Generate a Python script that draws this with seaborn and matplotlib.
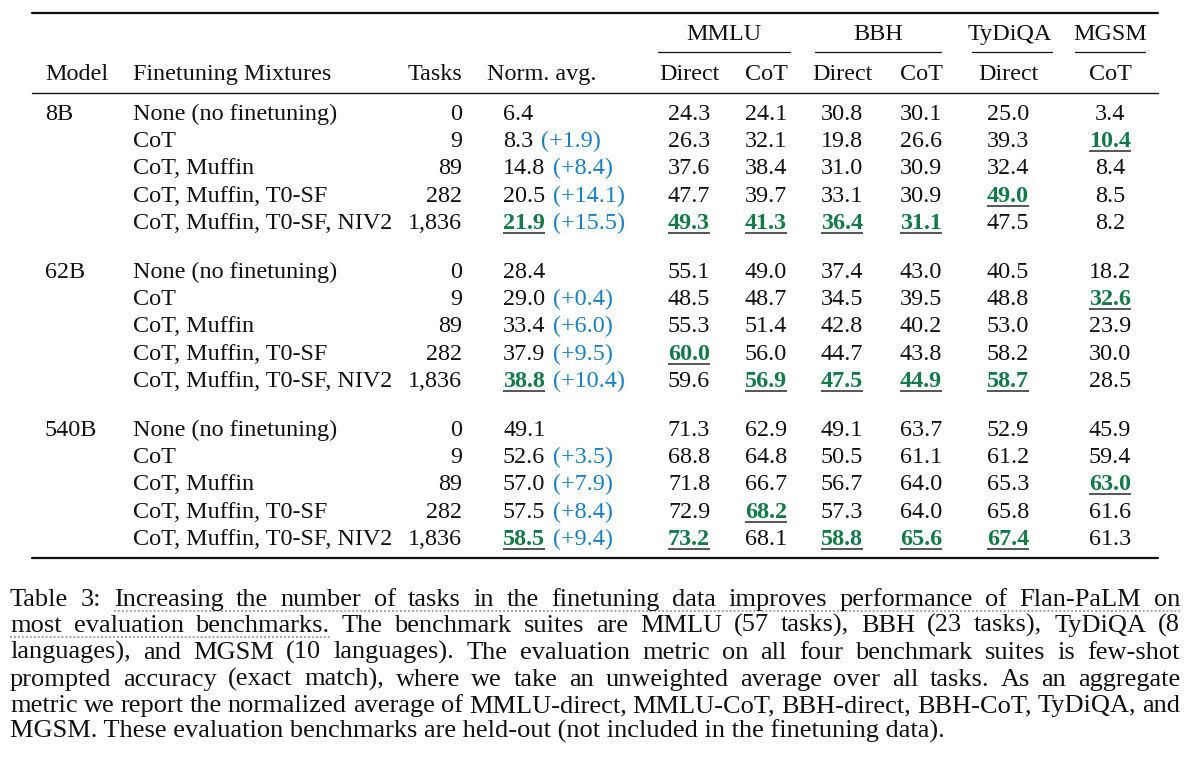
import numpy as np
import pandas as pd
import seaborn as sns
import matplotlib.pyplot as plt

# table data (Table 3, Flan-PaLM)
models = ['8B', '62B', '540B']
mixtures = ['None (no finetuning)', 'CoT', 'CoT, Muffin', 'CoT, Muffin, T0-SF', 'CoT, Muffin, T0-SF, NIV2']
tasks = ['0', '9', '89', '282', '1,836']
norm_avg = [[6.4, 8.3, 14.8, 20.5, 21.9], [28.4, 29.0, 33.4, 37.9, 38.8], [49.1, 52.6, 57.0, 57.5, 58.5]]
norm_gain = [[None, 1.9, 8.4, 14.1, 15.5], [None, 0.4, 6.0, 9.5, 10.4], [None, 3.5, 7.9, 8.4, 9.4]]
mmlu_direct = [[24.3, 26.3, 37.6, 47.7, 49.3], [55.1, 48.5, 55.3, 60.0, 59.6], [71.3, 68.8, 71.8, 72.9, 73.2]]
mmlu_cot = [[24.1, 32.1, 38.4, 39.7, 41.3], [49.0, 48.7, 51.4, 56.0, 56.9], [62.9, 64.8, 66.7, 68.2, 68.1]]
bbh_direct = [[30.8, 19.8, 31.0, 33.1, 36.4], [37.4, 34.5, 42.8, 44.7, 47.5], [49.1, 50.5, 56.7, 57.3, 58.8]]
bbh_cot = [[30.1, 26.6, 30.9, 30.9, 31.1], [43.0, 39.5, 40.2, 43.8, 44.9], [63.7, 61.1, 64.0, 64.0, 65.6]]
tydiqa = [[25.0, 39.3, 32.4, 49.0, 47.5], [40.5, 48.8, 53.0, 58.2, 58.7], [52.9, 61.2, 65.3, 65.8, 67.4]]
mgsm = [[3.4, 10.4, 8.4, 8.5, 8.2], [18.2, 32.6, 23.9, 30.0, 28.5], [45.9, 59.4, 63.0, 61.6, 61.3]]

groups = ['MMLU', 'BBH', 'TyDiQA', 'MGSM']
sub_headers = ['Direct', 'CoT', 'Direct', 'CoT', 'Direct', 'CoT']
caption_lines = [
    "Table 3: Increasing the number of tasks in the finetuning data improves performance of Flan-PaLM on",
    "most evaluation benchmarks. The benchmark suites are MMLU (57 tasks), BBH (23 tasks), TyDiQA (8",
    "languages), and MGSM (10 languages). The evaluation metric on all four benchmark suites is few-shot",
    "prompted accuracy (exact match), where we take an unweighted average over all tasks. As an aggregate",
    "metric we report the normalized average of MMLU-direct, MMLU-CoT, BBH-direct, BBH-CoT, TyDiQA, and",
    "MGSM. These evaluation benchmarks are held-out (not included in the finetuning data).",
]

bench_cols = [mmlu_direct, mmlu_cot, bbh_direct, bbh_cot, tydiqa, mgsm]

sns.set_theme(style="white")
plt.rcParams['font.family'] = ['Liberation Serif', 'DejaVu Serif']

BLUE = '#1a7fc1'
GREEN = '#157a4a'
INK = '#111111'
FS = 17.4
CAP_FS = 19.0

fig = plt.figure(figsize=(11.92, 7.66), dpi=100)
ax = fig.add_axes([0, 0, 1, 1])
ax.set_xlim(0, 1192)
ax.set_ylim(766, 0)
ax.axis('off')
fig.canvas.draw()
renderer = fig.canvas.get_renderer()


def width(t):
    bb = t.get_window_extent(renderer)
    return bb.width


def put(x, y, s, ha='left', **kw):
    kw.setdefault('fontsize', FS)
    kw.setdefault('color', INK)
    return ax.text(x, y, s, ha=ha, va='baseline', **kw)


def underline(x0, x1, y, **kw):
    ax.plot([x0, x1], [y, y], color='#555555', lw=1.4, solid_capstyle='butt', **kw)


# rules
ax.plot([32, 1158], [13, 13], color=INK, lw=1.6)
ax.plot([32, 1158], [93, 93], color=INK, lw=1.0)
ax.plot([32, 1158], [558, 558], color=INK, lw=1.6)

# group headers with cmidrules
group_x = [724, 878, 1010, 1110]
group_span = [(658, 790), (815, 941), (972, 1052), (1075, 1145)]
for g, gx, (a, b) in zip(groups, group_x, group_span):
    put(gx, 40, g, ha='center')
    ax.plot([a, b], [52, 52], color=INK, lw=0.9)

col_x = [689, 766, 842, 921, 1008, 1110]
hy = 80
put(45, hy, 'Model')
put(133, hy, 'Finetuning Mixtures')
put(462, hy, 'Tasks', ha='right')
put(487, hy, 'Norm. avg.')
for cx, h in zip(col_x, sub_headers):
    put(cx, hy, h, ha='center')

row_step = 27.2
block_start = [120, 278, 436]

for b, model in enumerate(models):
    best_norm = int(np.argmax(norm_avg[b]))
    best_cols = [int(np.argmax(c[b])) for c in bench_cols]
    for r in range(len(mixtures)):
        y = block_start[b] + r * row_step
        if r == 0:
            put(45, y, model)
        put(133, y, mixtures[r])
        put(462, y, tasks[r], ha='right')
        # normalised average with gain
        nv = f'{norm_avg[b][r]:.1f}'
        if r == best_norm:
            t = put(503, y, nv, color=GREEN, fontweight='bold')
            w = width(t)
            underline(503, 503 + w, y + 4)
        else:
            t = put(503, y, nv)
            w = width(t)
        if norm_gain[b][r] is not None:
            put(503 + w + 8, y, f'(+{norm_gain[b][r]:.1f})', color=BLUE)
        for c, cx in enumerate(col_x):
            v = f'{bench_cols[c][b][r]:.1f}'
            if r == best_cols[c]:
                t = put(cx, y, v, ha='center', color=GREEN, fontweight='bold')
                w = width(t)
                underline(cx - w / 2, cx + w / 2, y + 4)
            else:
                put(cx, y, v, ha='center')

# caption, justified
cap_y = [606, 632, 659, 686, 712, 738]
left, right = 10, 1180
for i, line in enumerate(caption_lines):
    y = cap_y[i]
    words = line.split(' ')
    if i == len(caption_lines) - 1:
        put(left, y, line, fontsize=CAP_FS)
        continue
    texts = [put(0, y, wd, fontsize=CAP_FS) for wd in words]
    ws = [width(t) for t in texts]
    gap = (right - left - sum(ws)) / (len(words) - 1)
    x = left
    starts = []
    for t, wd in zip(texts, ws):
        t.set_x(x)
        starts.append((x, x + wd))
        x += wd + gap
    if i == 0:
        ax.plot([starts[2][0], starts[-1][1]], [y + 5, y + 5], color='#999999', lw=1.3, ls=(0, (1, 1.2)))
    if i == 1:
        ax.plot([starts[0][0], starts[2][1]], [y + 5, y + 5], color='#999999', lw=1.3, ls=(0, (1, 1.2)))

fig.savefig('out.png', dpi=100, facecolor='white')
